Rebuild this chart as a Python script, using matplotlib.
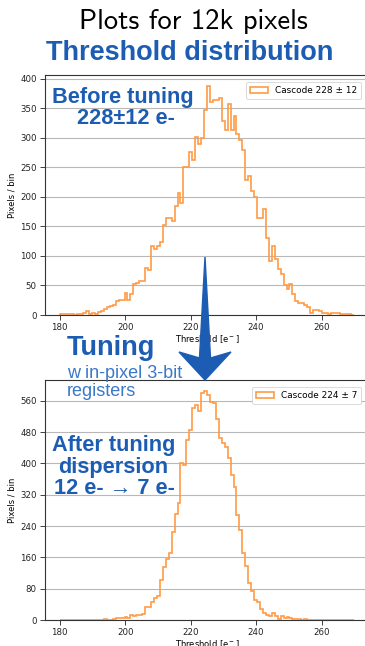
import matplotlib.pyplot as plt
import matplotlib.patches as mpatches
import numpy as np
from matplotlib.ticker import MultipleLocator

# threshold histograms, 100 bins between 180 and 270 e-
bin_lo, bin_hi, n_bins = 180, 270, 100

before_counts = [1, 2, 1, 1, 1, 0, 1, 1, 3, 6,
                 2, 4, 1, 5, 6, 10, 13, 16, 17, 24,
                 25, 25, 37, 25, 36, 52, 55, 58, 58, 80,
                 77, 117, 111, 116, 124, 152, 165, 164, 160, 185,
                 207, 190, 250, 251, 276, 263, 302, 290, 299, 347,
                 387, 360, 364, 364, 368, 328, 314, 358, 314, 337,
                 306, 296, 280, 229, 236, 210, 200, 165, 165, 179,
                 131, 92, 117, 95, 78, 69, 50, 44, 52, 36,
                 24, 21, 21, 17, 13, 3, 9, 8, 6, 3,
                 4, 2, 3, 3, 3, 1, 1, 1, 1, 0]

after_counts = [0, 0, 0, 0, 0, 0, 0, 0, 0, 0,
                0, 1, 1, 0, 1, 3, 1, 0, 2, 6,
                5, 5, 8, 4, 13, 10, 14, 13, 15, 34,
                34, 47, 55, 62, 103, 136, 157, 170, 226, 271,
                298, 401, 395, 460, 486, 541, 550, 534, 581, 584,
                575, 557, 555, 514, 465, 452, 443, 415, 371, 341,
                269, 231, 170, 137, 94, 73, 52, 47, 27, 19,
                13, 9, 17, 9, 2, 10, 6, 7, 4, 2,
                3, 2, 0, 3, 1, 1, 0, 1, 0, 0,
                0, 0, 0, 0, 0, 0, 0, 0, 0, 0]

before_label = "Cascode 228 ± 12"
after_label = "Cascode 224 ± 7"
xticks = [180, 200, 220, 240, 260]

blue = "#1c5db3"
orange = "#ff9b45"
W, H = 365, 646

edges = np.linspace(bin_lo, bin_hi, n_bins + 1)

fig = plt.figure(figsize=(W / 100, H / 100), dpi=100)


def px(x, y):
    # pixel position (from top left) -> figure fraction
    return x / W, 1 - y / H


def make_axes(top, bottom, counts, label, ystep):
    ax = fig.add_axes([45 / W, 1 - bottom / H, 324 / W, (bottom - top) / H])
    ax.hist(edges[:-1], bins=edges, weights=counts, histtype="step",
            color=orange, lw=1.2, label=label)
    ax.set_xlim(175.5, 274.5)
    ax.set_ylim(0, max(counts) * 1.05)
    ax.set_xticks(xticks)
    ax.yaxis.set_major_locator(MultipleLocator(ystep))
    ax.grid(axis="y", color="#b8b8b8", lw=0.8)
    ax.set_axisbelow(True)
    ax.tick_params(labelsize=6.2, length=3.5, width=0.6, pad=2.5, colors="#222222")
    for s in ax.spines.values():
        s.set_linewidth(0.8)
        s.set_color("#333333")
    ax.set_xlabel("Threshold [e$^-$]", fontsize=6, labelpad=1)
    ax.set_ylabel("Pixels / bin", fontsize=6, labelpad=3)
    leg = ax.legend(loc="upper right", fontsize=6.4, handlelength=2.0,
                    borderpad=0.45, bbox_to_anchor=(0.99, 0.99), framealpha=1)
    leg.get_frame().set_linewidth(0.5)
    return ax


ax1 = make_axes(75, 315, before_counts, before_label, 50)
ax2 = make_axes(380, 620, after_counts, after_label, 80)

# titles
fig.text(*px(193, 22), "Plots for 12k pixels", fontsize=20.5, family="cmss10",
         ha="center", va="center")
fig.text(*px(190, 53), "Threshold distribution", fontsize=19.5, weight="bold",
         family="Liberation Sans", color=blue, ha="center", va="center")

# annotations
big = dict(weight="bold", family=["Liberation Sans", "DejaVu Sans"], color=blue,
           ha="center", va="center", fontsize=15.7)
fig.text(*px(123, 97), "Before tuning", **big)
fig.text(*px(126, 119), "228±12 e-", **big)
fig.text(*px(114, 445), "After tuning", **big)
fig.text(*px(113, 467), "dispersion", **big)
fig.text(*px(114, 489), "12 e- → 7 e-", **big)
fig.text(*px(67, 348), "Tuning", fontsize=19.5, weight="bold", family="Liberation Sans",
         color=blue, ha="left", va="center")
small = dict(family="Liberation Sans", color="#3a78c9", ha="left", va="center", fontsize=13)
fig.text(*px(67, 373), "w in-pixel 3-bit", **small)
fig.text(*px(67, 392), "registers", **small)

# tuning arrow between the panels
arrow_px = [(205, 257), (210.5, 358), (231, 352), (205, 380), (179, 352), (199.5, 358)]
arrow = mpatches.Polygon([px(x, y) for x, y in arrow_px], closed=True,
                         transform=fig.transFigure, color=blue, zorder=10)
fig.patches.append(arrow)

fig.savefig("out.png", dpi=100)
